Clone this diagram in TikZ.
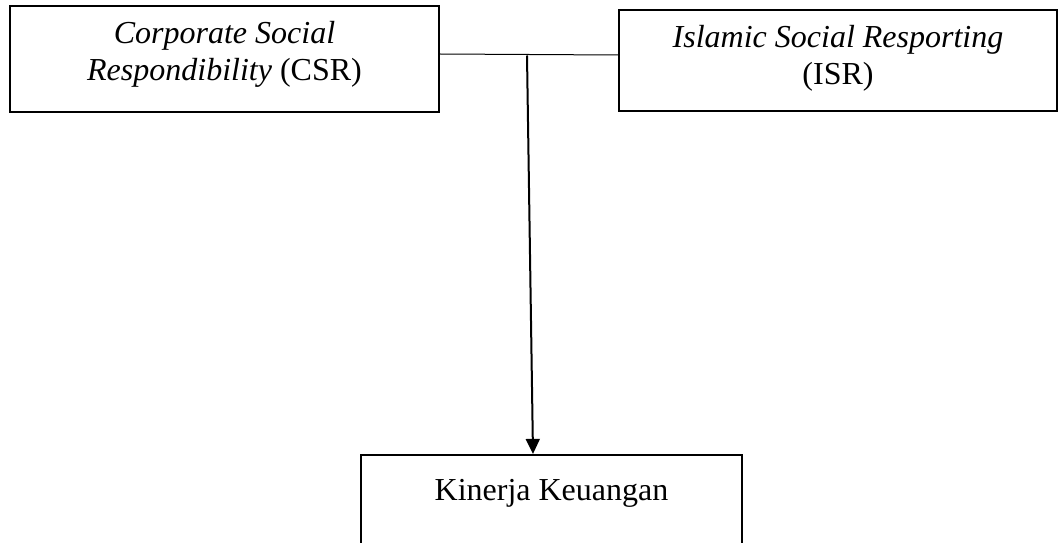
\documentclass[tikz,border=0pt]{standalone}
\usepackage{fontspec}
\setmainfont{Liberation Serif}
\usetikzlibrary{arrows.meta}
\begin{document}
\begin{tikzpicture}[x=1pt,y=1pt,
  boxstyle/.style={draw, line width=2.2pt, inner sep=0pt, align=center,
    font=\fontsize{32}{37}\selectfont},
  linkstyle/.style={line width=1pt},
  arrowstyle/.style={line width=2pt, -{Triangle[length=15pt,width=14pt]}}]
\useasboundingbox (0,0) rectangle (1058,542);
\node[boxstyle, minimum width=429pt, minimum height=106pt] (csr) at (224.5,483)
  {\textit{Corporate Social}\\\textit{Respondibility} (CSR)\rule[-16pt]{0pt}{0pt}};
\node[boxstyle, minimum width=438pt, minimum height=101pt] (isr) at (838,481.5)
  {\textit{Islamic Social Resporting}\\(ISR)\rule[-12pt]{0pt}{0pt}};
\node[boxstyle, minimum width=381pt, text height=45pt, text depth=70pt, anchor=base] (kin) at (551.5,42)
  {Kinerja Keuangan};
\draw[linkstyle] ([yshift=5pt]csr.east) -- ([yshift=5.5pt]isr.west);
\coordinate (j) at (527,486.5);
\draw[arrowstyle] (j) -- ([xshift=-18.5pt]kin.north);
\end{tikzpicture}
\end{document}
